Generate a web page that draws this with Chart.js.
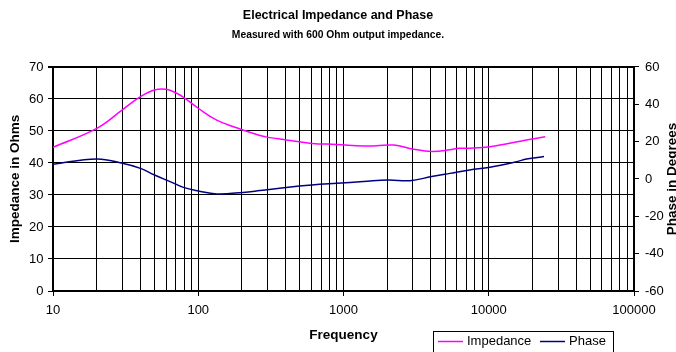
<!DOCTYPE html>
<html>
<head>
<meta charset="utf-8">
<title>Electrical Impedance and Phase</title>
<script src="https://cdn.jsdelivr.net/npm/chart.js@4.4.1/dist/chart.umd.min.js"></script>
<style>
    html, body { margin: 0; padding: 0; background: #ffffff; }
    #impedanceChart { display: block; }
</style>
</head>
<body>
<canvas id="impedanceChart" width="676" height="352"></canvas>
<script>
// Values (frequency in Hz)
const impedanceFreq = [10, 20, 30, 40, 50, 60, 71, 81, 100, 134, 203, 266, 303, 404, 605, 897, 1370, 1690, 2220, 3040, 4040, 5400, 6200, 7400, 10200, 18200, 24500];
const impedanceOhms = [44.9, 50.8, 56.6, 60.7, 62.8, 63.0, 61.8, 60.2, 57.1, 53.4, 50.3, 48.6, 48.0, 47.2, 46.1, 45.8, 45.3, 45.4, 45.6, 44.3, 43.6, 44.1, 44.6, 44.6, 45.1, 47.2, 48.2];

const phaseFreq = [10, 20, 30, 40, 50, 64, 79, 100, 134, 203, 266, 404, 605, 897, 1370, 2020, 2870, 4040, 5400, 7400, 10200, 15600, 18200, 24000];
const phaseDegrees = [7.9, 10.7, 8.4, 5.7, 2.1, -1.4, -4.5, -6.4, -8.0, -7.2, -6.2, -4.5, -3.2, -2.3, -1.4, -0.5, -0.9, 1.3, 3.0, 4.8, 6.3, 9.3, 10.7, 12.0];

const decadeLabels = [10, 100, 1000, 10000, 100000];

const FONT = "'Liberation Sans', Arial, sans-serif";

Chart.defaults.font.family = FONT;
Chart.defaults.color = "#000000";

function toPoints(xs, ys) {
    return xs.map((x, i) => ({ x: x, y: ys[i] }));
}

function isDecade(value) {
    return decadeLabels.indexOf(value) !== -1;
}

// Excel style legend box and right axis title (reads bottom to top)
const extrasPlugin = {
    id: "extras",
    afterDraw(chart) {
        const ctx = chart.ctx;
        const area = chart.chartArea;

        ctx.save();
        ctx.font = "bold 13.5px " + FONT;
        ctx.fillStyle = "#000000";
        ctx.textAlign = "center";
        ctx.textBaseline = "middle";
        ctx.translate(672, (area.top + area.bottom) / 2);
        ctx.rotate(-Math.PI / 2);
        ctx.fillText("Phase in Degrees", 0, 0);
        ctx.restore();

        const boxX = area.right - 201;
        const boxY = 331;
        const midY = boxY + 10.5;

        ctx.save();
        ctx.strokeStyle = "#000000";
        ctx.lineWidth = 1;
        ctx.strokeRect(boxX + 0.5, boxY + 0.5, 180, 22);

        ctx.font = "13px " + FONT;
        ctx.textBaseline = "middle";
        ctx.textAlign = "left";

        chart.data.datasets.forEach((ds, i) => {
            const x0 = boxX + (i === 0 ? 5 : 107);
            ctx.strokeStyle = ds.borderColor;
            ctx.lineWidth = 1.5;
            ctx.beginPath();
            ctx.moveTo(x0, midY);
            ctx.lineTo(x0 + 25, midY);
            ctx.stroke();
            ctx.fillStyle = "#000000";
            ctx.fillText(ds.label, x0 + 29, midY);
        });
        ctx.restore();
    }
};

const ctx = document.getElementById("impedanceChart").getContext("2d");

const impedanceChart = new Chart(ctx, {
    type: "line",
    data: {
        datasets: [
            {
                label: "Impedance",
                data: toPoints(impedanceFreq, impedanceOhms),
                borderColor: "#ff00ff",
                borderWidth: 1.5,
                pointRadius: 0,
                tension: 0.4,
                yAxisID: "y"
            },
            {
                label: "Phase",
                data: toPoints(phaseFreq, phaseDegrees),
                borderColor: "#000080",
                borderWidth: 1.5,
                pointRadius: 0,
                tension: 0.4,
                yAxisID: "y1"
            }
        ]
    },
    options: {
        responsive: false,
        animation: false,
        layout: {
            padding: 0
        },
        plugins: {
            legend: { display: false },
            tooltip: { enabled: false },
            title: {
                display: true,
                text: "Electrical Impedance and Phase",
                color: "#000000",
                font: { size: 12.5, weight: "bold" },
                padding: { top: 8, bottom: 4 }
            },
            subtitle: {
                display: true,
                text: "Measured with 600 Ohm output impedance.",
                color: "#000000",
                font: { size: 10.3, weight: "bold" },
                padding: { top: 2, bottom: 25.6 }
            }
        },
        scales: {
            x: {
                type: "logarithmic",
                position: "bottom",
                min: 10,
                max: 100000,
                afterBuildTicks: function(scale) {
                    const ticks = [];
                    for (let d = 10; d < 100000; d *= 10) {
                        for (let m = 1; m < 10; m++) {
                            ticks.push({ value: d * m });
                        }
                    }
                    ticks.push({ value: 100000 });
                    scale.ticks = ticks;
                },
                afterFit: function(scale) {
                    scale.height = 61;
                },
                ticks: {
                    autoSkip: false,
                    maxRotation: 0,
                    padding: 7,
                    font: { size: 13 },
                    callback: function(value) {
                        return isDecade(value) ? String(value) : "";
                    }
                },
                grid: {
                    color: "#000000",
                    lineWidth: 1,
                    tickLength: 5,
                    tickColor: function(c) {
                        return c.tick && isDecade(c.tick.value) ? "#000000" : "rgba(0,0,0,0)";
                    }
                },
                border: { display: true, color: "#000000", width: 2 },
                title: {
                    display: true,
                    text: "Frequency",
                    font: { size: 13.5, weight: "bold" },
                    padding: { top: 0, bottom: 8.9 }
                }
            },
            y: {
                position: "left",
                min: 0,
                max: 70,
                ticks: {
                    stepSize: 10,
                    padding: 4.5,
                    font: { size: 13 }
                },
                afterFit: function(scale) {
                    scale.width = 53;
                },
                grid: {
                    color: "#000000",
                    lineWidth: function(c) {
                        return c.tick && c.tick.value === 70 ? 2 : 1;
                    },
                    tickLength: 5,
                    tickColor: "#000000"
                },
                border: { display: true, color: "#000000", width: 2 },
                title: {
                    display: true,
                    text: "Impedance in Ohms",
                    font: { size: 13.5, weight: "bold" },
                    padding: { top: 6.9, bottom: 0 }
                }
            },
            y1: {
                position: "right",
                min: -60,
                max: 60,
                ticks: {
                    stepSize: 20,
                    padding: 6,
                    font: { size: 13 }
                },
                afterFit: function(scale) {
                    scale.width = 42;
                },
                grid: {
                    drawOnChartArea: false,
                    tickLength: 5,
                    tickColor: "#000000"
                },
                border: { display: true, color: "#000000", width: 2 }
            }
        }
    },
    plugins: [extrasPlugin]
});
</script>
</body>
</html>
